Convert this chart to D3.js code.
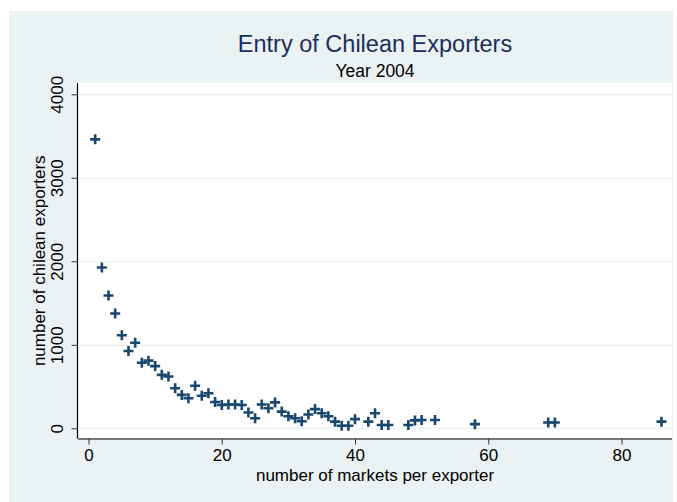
<!DOCTYPE html>
<html>
<head>
<meta charset="utf-8">
<script src="https://cdn.jsdelivr.net/npm/d3@7"></script>
<style>
  html, body { margin: 0; padding: 0; background: #ffffff; }
  svg { display: block; }
  text { font-family: "Liberation Sans", Arial, Helvetica, sans-serif; }
</style>
</head>
<body>
<svg id="chart" width="677" height="502"></svg>
<script>
// Number of markets served by an exporter
const markets = [
  1, 2, 3, 4, 5, 6, 7, 8, 9, 10,
  11, 12, 13, 14, 15, 16, 17, 18, 19, 20,
  21, 22, 23, 24, 25, 26, 27, 28, 29, 30,
  31, 32, 33, 34, 35, 36, 37, 38, 39, 40,
  42, 43, 44, 45, 48, 49, 50, 52, 58, 69,
  70, 86
];
// Number of Chilean exporters serving that many markets
const exporters = [
  3460, 1925, 1590, 1375, 1115, 925, 1025, 785, 810, 745,
  640, 620, 480, 400, 360, 510, 390, 420, 315, 280,
  285, 285, 280, 190, 120, 285, 240, 310, 200, 145,
  120, 85, 165, 230, 180, 145, 80, 30, 30, 110,
  80, 180, 40, 40, 40, 95, 100, 100, 50, 70,
  70, 80
];
const xTicks = [0, 20, 40, 60, 80];
const yTicks = [0, 1000, 2000, 3000, 4000];

const titleText = "Entry of Chilean Exporters";
const subtitleText = "Year 2004";
const xTitle = "number of markets per exporter";
const yTitle = "number of chilean exporters";

const svg = d3.select("#chart");

// Outer graph region
const region = { left: 9, top: 11, right: 673, bottom: 502 };
// Plot region
const plot = { left: 78, top: 83, right: 672, bottom: 438.5 };

svg.append("rect")
  .attr("x", region.left).attr("y", region.top)
  .attr("width", region.right - region.left)
  .attr("height", region.bottom - region.top)
  .attr("fill", "#eaf2f3");

svg.append("rect")
  .attr("x", plot.left).attr("y", plot.top)
  .attr("width", plot.right - plot.left)
  .attr("height", plot.bottom - plot.top)
  .attr("fill", "#ffffff");

const x = d3.scaleLinear().domain([-1.58, 87.58]).range([plot.left, plot.right]);
const y = d3.scaleLinear().domain([-122, 4135]).range([plot.bottom, plot.top]);

// Horizontal grid lines
svg.append("g")
  .selectAll("line")
  .data(yTicks)
  .join("line")
  .attr("x1", plot.left + 1).attr("x2", plot.right)
  .attr("y1", d => Math.round(y(d)) + 0.5)
  .attr("y2", d => Math.round(y(d)) + 0.5)
  .attr("stroke", "#eaf2f3")
  .attr("stroke-width", 1.5);

// X axis
const xAxis = d3.axisBottom(x)
  .tickValues(xTicks)
  .tickSize(6)
  .tickPadding(4)
  .tickFormat(d3.format("d"));

const gx = svg.append("g")
  .attr("transform", `translate(0,${plot.bottom})`)
  .call(xAxis);
gx.select(".domain")
  .attr("d", `M${plot.left},0.5H${plot.right}`)
  .attr("stroke", "#000").attr("stroke-width", 1.2);
gx.selectAll(".tick line").attr("stroke", "#333").attr("stroke-width", 1);
gx.selectAll(".tick text")
  .attr("font-size", 17)
  .attr("fill", "#000")
  .style("font-family", "'Liberation Sans', Arial, sans-serif");

// Y axis with vertical tick labels
const yAxis = d3.axisLeft(y)
  .tickValues(yTicks)
  .tickSize(6)
  .tickFormat(d3.format("d"));

const gy = svg.append("g")
  .attr("transform", `translate(${plot.left - 0.5},0)`)
  .call(yAxis);
gy.select(".domain")
  .attr("d", `M0,${plot.top}V${plot.bottom}`)
  .attr("stroke", "#000").attr("stroke-width", 1.2);
gy.selectAll(".tick line").attr("stroke", "#333").attr("stroke-width", 1);
gy.selectAll(".tick text")
  .attr("x", null).attr("dy", null)
  .attr("transform", "translate(-14.5,0) rotate(-90)")
  .attr("text-anchor", "middle")
  .attr("font-size", 17)
  .attr("fill", "#000")
  .style("font-family", "'Liberation Sans', Arial, sans-serif");

// Titles, centred over the plot region
const cx = (plot.left + plot.right) / 2;
svg.append("text")
  .attr("x", cx).attr("y", 52)
  .attr("text-anchor", "middle")
  .attr("font-size", 23.5)
  .attr("fill", "#1c2e5e")
  .text(titleText);

svg.append("text")
  .attr("x", cx).attr("y", 77)
  .attr("text-anchor", "middle")
  .attr("font-size", 17.5)
  .attr("fill", "#000")
  .text(subtitleText);

svg.append("text")
  .attr("x", cx).attr("y", 481)
  .attr("text-anchor", "middle")
  .attr("font-size", 17)
  .attr("fill", "#000")
  .text(xTitle);

svg.append("text")
  .attr("transform", `translate(45,${(plot.top + plot.bottom) / 2}) rotate(-90)`)
  .attr("text-anchor", "middle")
  .attr("font-size", 17)
  .attr("fill", "#000")
  .text(yTitle);

// Plus-sign markers
const points = markets.map((m, i) => ({ m, v: exporters[i] }));
const arm = 5;
const marks = svg.append("g")
  .attr("stroke", "#1a476f")
  .attr("stroke-width", 2.6)
  .attr("fill", "none");

marks.selectAll("path")
  .data(points)
  .join("path")
  .attr("d", d => {
    const px = x(d.m), py = y(d.v);
    return `M${px - arm},${py}H${px + arm}M${px},${py - arm}V${py + arm}`;
  });
</script>
</body>
</html>
